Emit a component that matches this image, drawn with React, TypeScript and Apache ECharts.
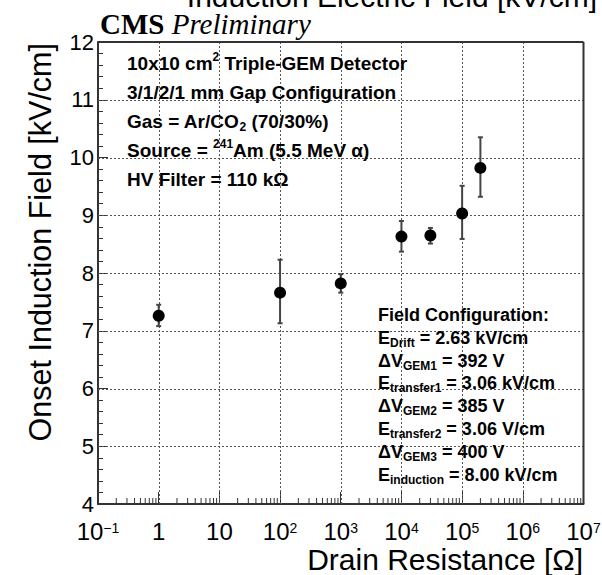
import React, { useEffect, useRef } from 'react';
import * as echarts from 'echarts';

// ---- data ----
const RESISTANCE = [1, 100, 1000, 10000, 30000, 100000, 200000];
const ONSET_FIELD = [7.26, 7.66, 7.82, 8.63, 8.65, 9.03, 9.82];
const ERR_LOW = [7.08, 7.13, 7.66, 8.37, 8.51, 8.59, 9.32];
const ERR_HIGH = [7.45, 8.23, 7.98, 8.9, 8.78, 9.51, 10.35];

const X_MIN = 0.1;
const X_MAX = 1e7;
const Y_MIN = 4;
const Y_MAX = 12;
const DECADE_EXPONENTS = [-1, 0, 1, 2, 3, 4, 5, 6];
const MINOR_MULTIPLIERS = [2, 3, 4, 5, 6, 7, 8, 9];
const X_GRID = [1, 10, 100, 1000, 10000, 100000, 1000000];
const Y_GRID = [5, 6, 7, 8, 9, 10, 11];

const TITLE_TOP = 'Induction Electric Field [kV/cm]';
const Y_TITLE = 'Onset Induction Field [kV/cm]';
const X_TITLE = 'Drain Resistance [Ω]';
const INFO_LINES = [
  '{n|10x10 cm}{sup|2}{n| Triple-GEM Detector}',
  '{n|3/1/2/1 mm Gap Configuration}',
  '{n|Gas = Ar/CO}{sub|2}{n| (70/30%)}',
  '{n|Source = }{sup|241}{n|Am (5.5 MeV α)}',
  '{n|HV Filter = 110 kΩ}',
];
const FIELD_LINES = [
  '{n|Field Configuration:}',
  '{n|E}{sub|Drift}{n| = 2.63 kV/cm}',
  '{n|ΔV}{sub|GEM1}{n| = 392 V}',
  '{n|E}{sub|transfer1}{n| = 3.06 kV/cm}',
  '{n|ΔV}{sub|GEM2}{n| = 385 V}',
  '{n|E}{sub|transfer2}{n| = 3.06 V/cm}',
  '{n|ΔV}{sub|GEM3}{n| = 400 V}',
  '{n|E}{sub|induction}{n| = 8.00 kV/cm}',
];

const SANS = 'Liberation Sans, Arial, Helvetica, sans-serif';
const SERIF = 'Liberation Serif, Times New Roman, serif';

const boxRich = {
  n: { fontSize: 19, fontWeight: 'bold', fontFamily: SANS, lineHeight: 24, verticalAlign: 'middle', fill: '#000' },
  sub: { fontSize: 12, fontWeight: 'bold', fontFamily: SANS, lineHeight: 10, verticalAlign: 'bottom', fill: '#000' },
  sup: { fontSize: 12, fontWeight: 'bold', fontFamily: SANS, lineHeight: 16, verticalAlign: 'top', fill: '#000' },
};
const fieldRich = {
  n: { fontSize: 18, fontWeight: 'bold', fontFamily: SANS, lineHeight: 22, verticalAlign: 'middle', fill: '#000' },
  sub: { fontSize: 12, fontWeight: 'bold', fontFamily: SANS, lineHeight: 10, verticalAlign: 'bottom', fill: '#000' },
};

export default function App() {
  const ref = useRef<HTMLDivElement>(null);

  useEffect(() => {
    if (!ref.current) return;
    const chart = echarts.init(ref.current, undefined, { renderer: 'svg' });

    const minorTicks: number[][] = [];
    DECADE_EXPONENTS.forEach((e) => {
      MINOR_MULTIPLIERS.forEach((m) => {
        minorTicks.push([m * Math.pow(10, e), Y_MIN]);
      });
    });

    // line records: [x, y, orientation (0 vertical, 1 horizontal), kind (0 dotted grid, 1 frame)]
    const gridData: number[][] = [
      ...X_GRID.map((v) => [v, Y_MIN, 0, 0]),
      ...Y_GRID.map((v) => [X_MIN, v, 1, 0]),
      [X_MAX, Y_MIN, 0, 1],
      [X_MIN, Y_MAX, 1, 1],
    ];

    const points = RESISTANCE.map((x, i) => [x, ONSET_FIELD[i]]);
    const errors = RESISTANCE.map((x, i) => [x, ERR_LOW[i], ERR_HIGH[i]]);

    const graphics: any[] = [
      {
        type: 'text',
        x: 597,
        y: -3.5,
        style: { text: TITLE_TOP, fontSize: 30, lineHeight: 22, fontFamily: SANS, fill: '#000', align: 'right', verticalAlign: 'middle' },
      },
      {
        type: 'text',
        x: 100,
        y: 23.5,
        style: {
          text: '{b|CMS}{i| Preliminary}',
          align: 'left',
          verticalAlign: 'middle',
          rich: {
            b: { fontSize: 29, fontWeight: 'bold', fontFamily: SERIF, fill: '#000', lineHeight: 24 },
            i: { fontSize: 29, fontStyle: 'italic', fontFamily: SERIF, fill: '#000', lineHeight: 24 },
          },
        },
      },
      {
        type: 'text',
        x: 39.5,
        y: 43,
        rotation: Math.PI / 2,
        style: { text: Y_TITLE, fontSize: 30.5, fontFamily: SANS, fill: '#000', align: 'right', verticalAlign: 'middle' },
      },
      {
        type: 'text',
        x: 583,
        y: 559.5,
        style: { text: X_TITLE, fontSize: 30, lineHeight: 26, fontFamily: SANS, fill: '#000', align: 'right', verticalAlign: 'middle' },
      },
    ];
    INFO_LINES.forEach((t, i) => {
      graphics.push({
        type: 'text',
        x: 127,
        y: 63.4 + i * 29,
        z: 10,
        style: { text: t, rich: boxRich, align: 'left', verticalAlign: 'middle' },
      });
    });
    FIELD_LINES.forEach((t, i) => {
      graphics.push({
        type: 'text',
        x: 378,
        y: 314.7 + i * 22.9,
        z: 10,
        style: { text: t, rich: fieldRich, align: 'left', verticalAlign: 'middle' },
      });
    });

    const option: any = {
      animation: false,
      backgroundColor: '#fff',
      grid: {
        left: 98,
        right: 602 - 583.5,
        top: 42,
        bottom: 575 - 504,
        containLabel: false,
        outerBoundsMode: 'none',
        show: false,
      },
      xAxis: {
        type: 'log',
        logBase: 10,
        min: X_MIN,
        max: X_MAX,
        splitNumber: 8,
        axisLine: { show: true, lineStyle: { color: '#333', width: 2 } },
        axisTick: { show: true, inside: true, length: 12, lineStyle: { color: '#333', width: 1 } },
        minorTick: { show: false },
        splitLine: { show: false },
        axisLabel: {
          show: true,
          margin: 17,
          showMinLabel: true,
          showMaxLabel: true,
          hideOverlap: false,
          formatter: (v: number) => {
            const e = Math.round(Math.log10(v));
            if (e === 0) return '{n|1}';
            if (e === 1) return '{n|10}';
            return '{n|10}{sup|' + (e < 0 ? '\u2212' + -e : String(e)) + '}';
          },
          rich: {
            n: { fontSize: 24, fontFamily: SANS, color: '#000', lineHeight: 20, verticalAlign: 'middle' },
            sup: { fontSize: 14, fontFamily: SANS, color: '#000', lineHeight: 8, verticalAlign: 'top' },
          },
        },
      },
      yAxis: {
        type: 'value',
        min: Y_MIN,
        max: Y_MAX,
        interval: 1,
        axisLine: { show: true, lineStyle: { color: '#333', width: 2 } },
        axisTick: { show: true, inside: true, length: 10, lineStyle: { color: '#333', width: 1 } },
        minorTick: { show: true, splitNumber: 5, length: 5, lineStyle: { color: '#333', width: 1 } },
        splitLine: { show: false },
        axisLabel: {
          show: true,
          margin: 4,
          fontSize: 22,
          fontFamily: SANS,
          color: '#000',
          showMinLabel: true,
          showMaxLabel: true,
        },
      },
      graphic: graphics,
      series: [
        {
          type: 'custom',
          name: 'gridLines',
          clip: false,
          silent: true,
          z: 3,
          data: gridData,
          renderItem: (params: any, api: any) => {
            const vertical = api.value(2) === 0;
            const frame = api.value(3) === 1;
            let x1: number, y1: number, x2: number, y2: number;
            if (vertical) {
              const a = api.coord([api.value(0), Y_MIN]);
              const b = api.coord([api.value(0), Y_MAX]);
              const px = frame ? a[0] : Math.round(a[0]) + 0.5;
              x1 = px; x2 = px; y1 = a[1]; y2 = b[1];
            } else {
              const a = api.coord([X_MIN, api.value(1)]);
              const b = api.coord([X_MAX, api.value(1)]);
              const py = frame ? a[1] : Math.round(a[1]) + 0.5;
              y1 = py; y2 = py; x1 = a[0]; x2 = b[0];
            }
            return {
              type: 'line',
              shape: { x1, y1, x2, y2 },
              style: frame
                ? { stroke: '#333', lineWidth: 2 }
                : { stroke: '#555', lineWidth: 1, lineDash: [2, 2] },
            };
          },
        },
        {
          type: 'custom',
          name: 'minorTicks',
          clip: false,
          silent: true,
          z: 4,
          data: minorTicks,
          renderItem: (params: any, api: any) => {
            const p = api.coord([api.value(0), api.value(1)]);
            return {
              type: 'line',
              shape: { x1: p[0], y1: p[1], x2: p[0], y2: p[1] - 6 },
              style: { stroke: '#333', lineWidth: 1 },
            };
          },
        },
        {
          type: 'custom',
          name: 'errors',
          silent: true,
          z: 5,
          encode: { x: 0, y: [1, 2] },
          data: errors,
          renderItem: (params: any, api: any) => {
            const x = api.value(0);
            const lo = api.coord([x, api.value(1)]);
            const hi = api.coord([x, api.value(2)]);
            const cap = 2.5;
            const st = { stroke: '#444', lineWidth: 2 };
            return {
              type: 'group',
              children: [
                { type: 'line', shape: { x1: lo[0], y1: lo[1], x2: hi[0], y2: hi[1] }, style: st },
                { type: 'line', shape: { x1: lo[0] - cap, y1: lo[1], x2: lo[0] + cap, y2: lo[1] }, style: st },
                { type: 'line', shape: { x1: hi[0] - cap, y1: hi[1], x2: hi[0] + cap, y2: hi[1] }, style: st },
              ],
            };
          },
        },
        {
          type: 'scatter',
          name: 'onset',
          z: 6,
          symbol: 'circle',
          symbolSize: 12,
          itemStyle: { color: '#000', opacity: 1 },
          data: points,
        },
      ],
    };

    chart.setOption(option);
    return () => {
      chart.dispose();
    };
  }, []);

  return (
    <div
      ref={ref}
      style={{ position: 'fixed', left: 0, top: 0, width: 602, height: 575, background: '#fff' }}
    />
  );
}
